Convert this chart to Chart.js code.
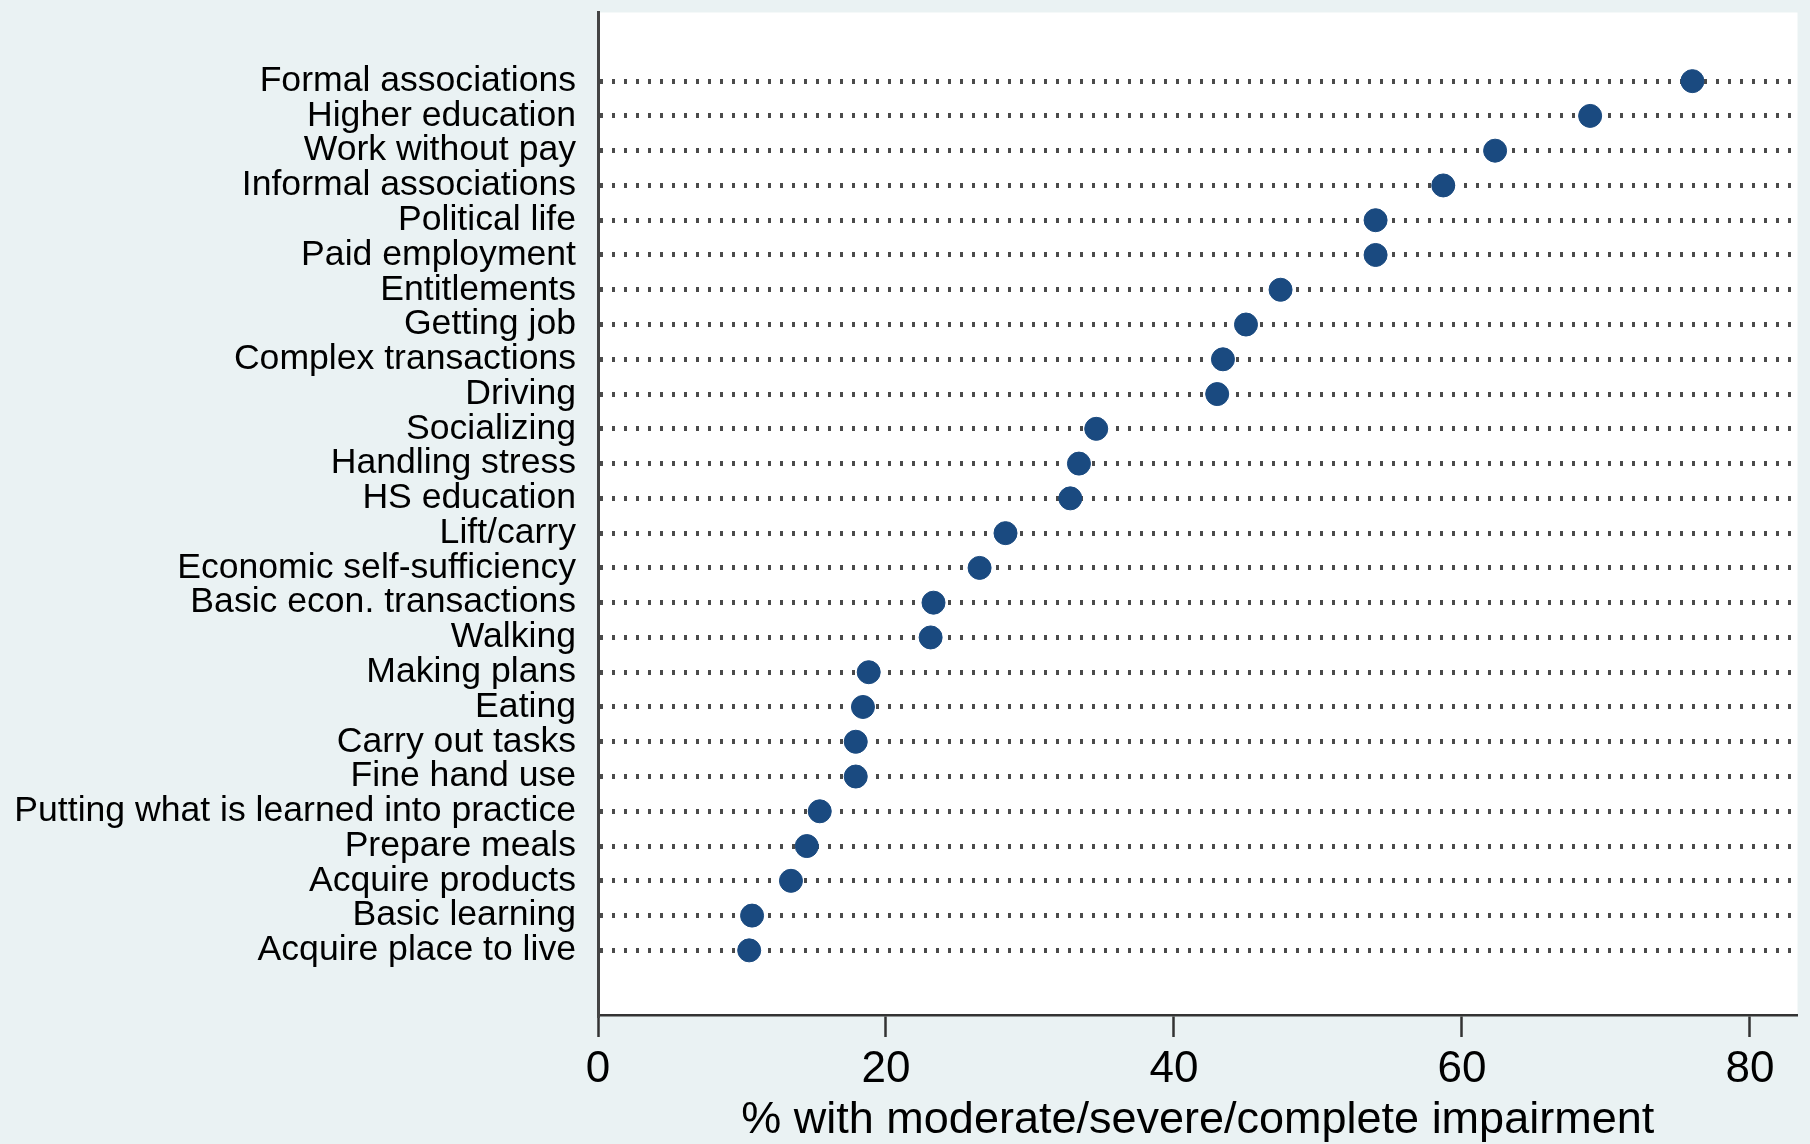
<!DOCTYPE html>
<html><head><meta charset="utf-8">
<script src="https://cdn.jsdelivr.net/npm/chart.js@4"></script>
<style>html,body{margin:0;padding:0;background:#eaf2f3;} canvas{display:block}</style>
</head><body>
<canvas id="c" width="1810" height="1144"></canvas>
<script>
const categories = [
  'Formal associations','Higher education','Work without pay','Informal associations',
  'Political life','Paid employment','Entitlements','Getting job','Complex transactions',
  'Driving','Socializing','Handling stress','HS education','Lift/carry',
  'Economic self-sufficiency','Basic econ. transactions','Walking','Making plans','Eating',
  'Carry out tasks','Fine hand use','Putting what is learned into practice','Prepare meals',
  'Acquire products','Basic learning','Acquire place to live'
];
const values = [
  76.0, 68.9, 62.3, 58.7,
  54.0, 54.0, 47.4, 45.0, 43.4,
  43.0, 34.6, 33.4, 32.8, 28.3,
  26.5, 23.3, 23.1, 18.8, 18.4,
  17.9, 17.9, 15.4, 14.5,
  13.4, 10.7, 10.5
];
const xTicks = [0, 20, 40, 60, 80];
const xTitle = '% with moderate/severe/complete impairment';

const bgPlugin = {
  id: 'bg',
  beforeDraw(chart) {
    const {ctx, chartArea: a} = chart;
    ctx.save();
    ctx.fillStyle = '#eaf2f3';
    ctx.fillRect(0, 0, chart.width, chart.height);
    ctx.fillStyle = '#ffffff';
    ctx.fillRect(a.left, a.top, a.right - a.left, a.bottom - a.top);
    ctx.restore();
  }
};

new Chart(document.getElementById('c'), {
  type: 'scatter',
  data: {
    datasets: [{
      data: values.map((v, i) => ({x: v, y: i})),
      backgroundColor: '#1a4a80',
      borderColor: '#1a4a80',
      pointRadius: 11.5,
      pointHoverRadius: 11.5,
      borderWidth: 1
    }]
  },
  options: {
    responsive: false,
    devicePixelRatio: 1,
    animation: false,
    layout: {padding: {top: 7, right: 10, left: 0, bottom: 0}},
    plugins: {legend: {display: false}, tooltip: {enabled: false}},
    scales: {
      x: {
        type: 'linear', min: 0, max: 83.3,
        afterBuildTicks: s => { s.ticks = xTicks.map(v => ({value: v})); },
        afterFit: s => { s.height = 129; s.paddingLeft = 0; s.paddingRight = 0; },
        grid: {drawOnChartArea: false, drawTicks: true, tickLength: 22, tickWidth: 2.5, tickColor: '#333'},
        border: {display: true, color: '#333', width: 2.5},
        ticks: {font: {family: 'Liberation Sans', size: 44}, color: '#000', padding: 6, maxRotation: 0},
        title: {display: true, text: xTitle, font: {family: 'Liberation Sans', size: 45, lineHeight: 1}, color: '#000', padding: {top: 0, bottom: 0.5}}
      },
      y: {
        type: 'linear', reverse: true, min: -1.974, max: 26.859,
        afterBuildTicks: s => { s.ticks = categories.map((c, i) => ({value: i})); },
        afterFit: s => { s.width = 598; s.paddingTop = 0; s.paddingBottom = 0; },
        grid: {drawTicks: false, color: '#4a4a4a', lineWidth: 5},
        border: {display: true, color: '#444', width: 3, dash: [3, 9]},
        ticks: {font: {family: 'Liberation Sans', size: 35.6}, color: '#000', padding: 22, autoSkip: false,
                callback: (v) => categories[v]}
      }
    }
  },
  plugins: [bgPlugin]
});
</script>
</body></html>
